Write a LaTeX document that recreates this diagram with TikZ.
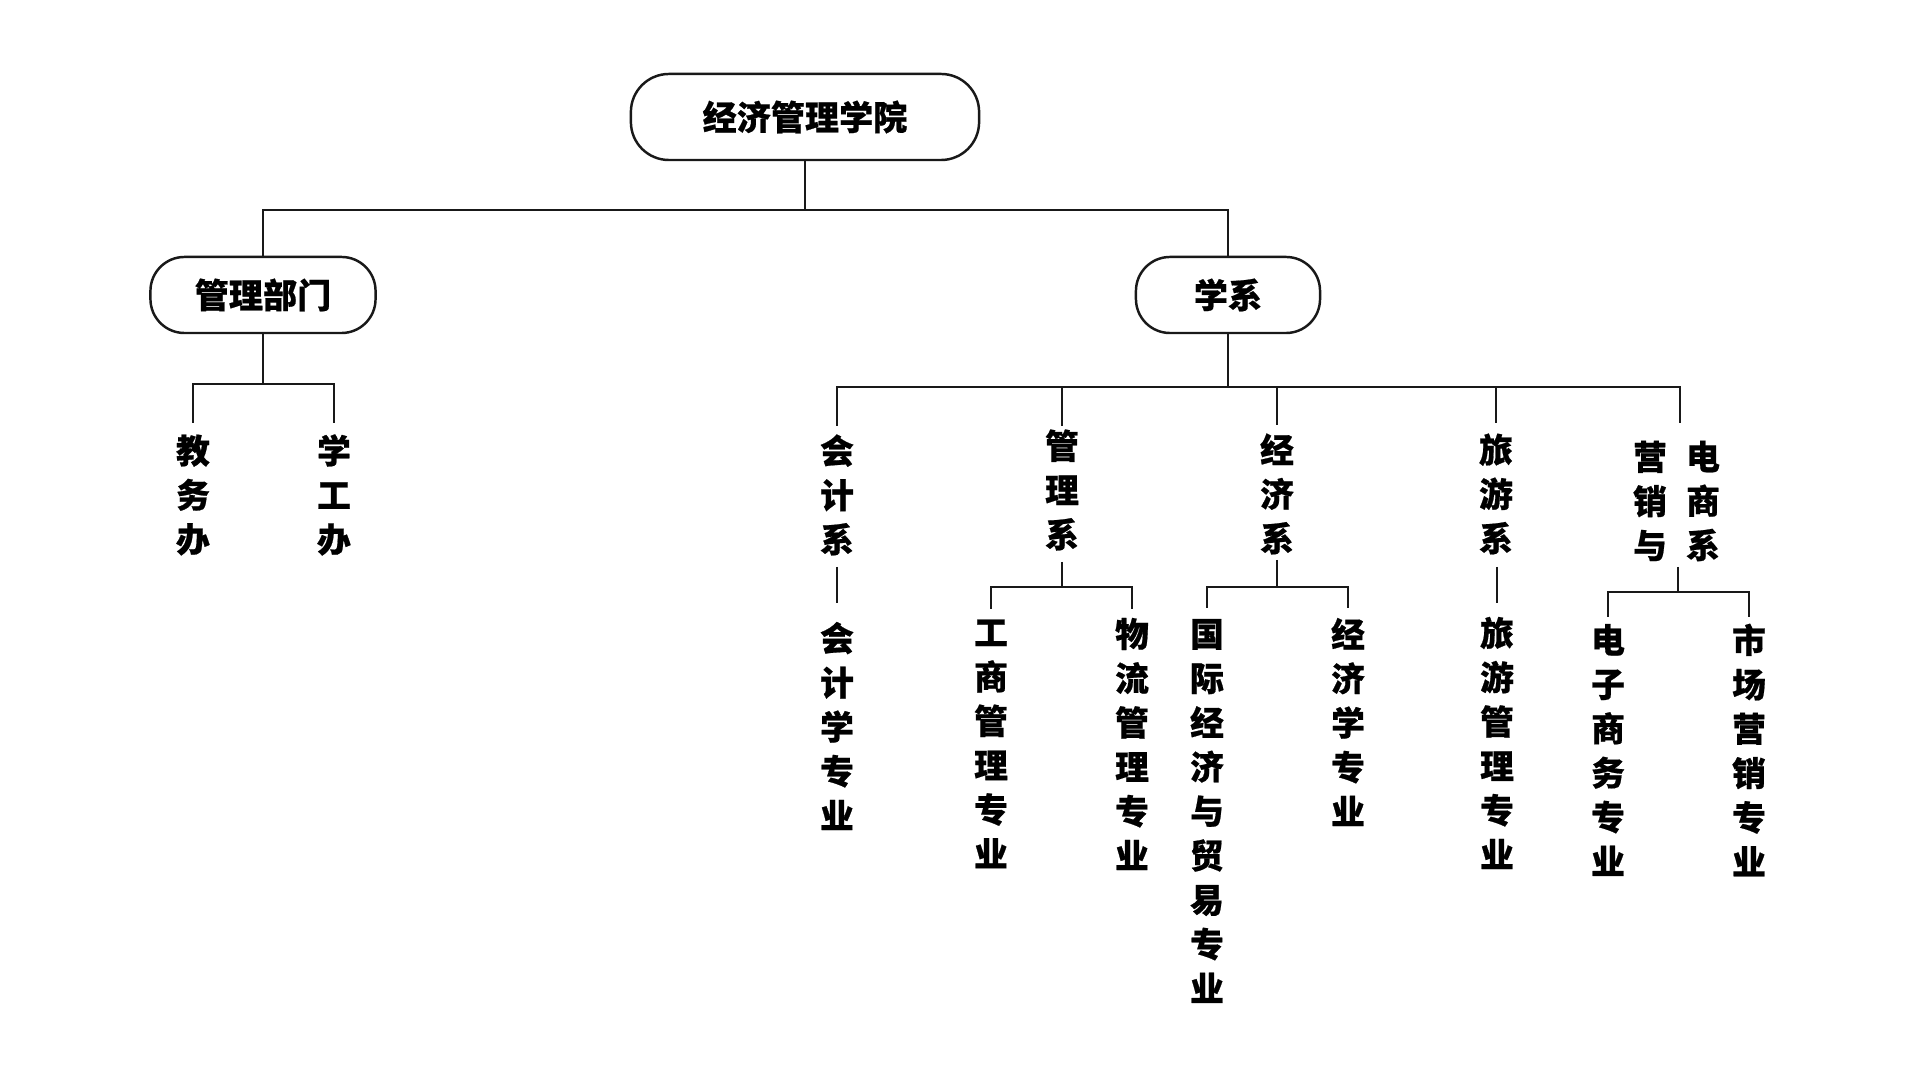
\documentclass[tikz,border=0pt]{standalone}
\usepackage{fontspec}
\newfontfamily\cjk[BoldFeatures={FakeBold=0.6}]{Noto Sans CJK SC}
\tikzset{
  ln/.style={line width=0.7pt, draw=black!90},
  box/.style={draw=black!90, line width=0.7pt, inner sep=0pt, fill=white,
    font=\cjk\bfseries\fontsize{9.7pt}{12pt}\selectfont},
  vt/.style={align=center, inner sep=0pt,
    font=\cjk\bfseries\fontsize{9.6pt}{12.6pt}\selectfont}
}
\begin{document}
\begin{tikzpicture}[x=0.01cm,y=-0.01cm]
\useasboundingbox[fill=white] (0,0) rectangle (1920,1080);
% boxes
\node[box, rounded corners=0.38cm, minimum width=3.48cm, minimum height=0.86cm] (root) at (805,117) {经济管理学院};
\node[box, rounded corners=0.34cm, minimum width=2.25cm, minimum height=0.76cm] (mgmt) at (263,295) {管理部门};
\node[box, rounded corners=0.34cm, minimum width=1.84cm, minimum height=0.76cm] (dept) at (1228,295) {学系};
% level 2 vertical labels
\node[vt] (jwb) at (193,495) {教\\务\\办};
\node[vt] (xgb) at (334,495) {学\\工\\办};
\node[vt] (kjx) at (837,495) {会\\计\\系};
\node[vt] (glx) at (1062,490) {管\\理\\系};
\node[vt] (jjx) at (1277,494) {经\\济\\系};
\node[vt] (lyx) at (1496,494) {旅\\游\\系};
\node[vt] (yxl) at (1650,501) {营\\销\\与};
\node[vt] (yxr) at (1703,501) {电\\商\\系};
% majors
\node[vt] (kjzy) at (837,726) {会\\计\\学\\专\\业};
\node[vt] (gszy) at (991,744) {工\\商\\管\\理\\专\\业};
\node[vt] (wlzy) at (1132,744) {物\\流\\管\\理\\专\\业};
\node[vt] (gjzy) at (1207,811) {国\\际\\经\\济\\与\\贸\\易\\专\\业};
\node[vt] (jjzy) at (1348,722) {经\\济\\学\\专\\业};
\node[vt] (lyzy) at (1497,743) {旅\\游\\管\\理\\专\\业};
\node[vt] (dzzy) at (1608,750) {电\\子\\商\\务\\专\\业};
\node[vt] (sczy) at (1749,750) {市\\场\\营\\销\\专\\业};
% junctions and line ends
\coordinate (j0) at (805,210);
\coordinate (j1) at (263,384);
\coordinate (a1) at (193,423);
\coordinate (a2) at (334,423);
\coordinate (j2) at (1228,387);
\coordinate (b1) at (837,426);
\coordinate (b2) at (1062,426);
\coordinate (b3) at (1277,425);
\coordinate (b4) at (1496,423);
\coordinate (b5) at (1680,423);
\coordinate (c1t) at (837,567);
\coordinate (c1b) at (837,603);
\coordinate (g0) at (1062,562);
\coordinate (gj) at (1062,587);
\coordinate (g1) at (991,609);
\coordinate (g2) at (1132,609);
\coordinate (e0) at (1277,560);
\coordinate (ej) at (1277,587);
\coordinate (e1) at (1207,608);
\coordinate (e2) at (1348,608);
\coordinate (l1t) at (1497,567);
\coordinate (l1b) at (1497,603);
\coordinate (m0) at (1678,567);
\coordinate (mj) at (1678,592);
\coordinate (m1) at (1608,617);
\coordinate (m2) at (1749,617);
% connectors
\draw[ln] (root.south) -- (j0);
\draw[ln] (mgmt.north) |- (j0) -| (dept.north);
\draw[ln] (mgmt.south) -- (j1);
\draw[ln] (a1) |- (j1) -| (a2);
\draw[ln] (dept.south) -- (j2);
\draw[ln] (b1) |- (j2) -| (b5);
\draw[ln] (b2) -- (b2 |- j2);
\draw[ln] (b3) -- (b3 |- j2);
\draw[ln] (b4) -- (b4 |- j2);
\draw[ln] (c1t) -- (c1b);
\draw[ln] (g0) -- (gj);
\draw[ln] (g1) |- (gj) -| (g2);
\draw[ln] (e0) -- (ej);
\draw[ln] (e1) |- (ej) -| (e2);
\draw[ln] (l1t) -- (l1b);
\draw[ln] (m0) -- (mj);
\draw[ln] (m1) |- (mj) -| (m2);
\end{tikzpicture}
\end{document}
